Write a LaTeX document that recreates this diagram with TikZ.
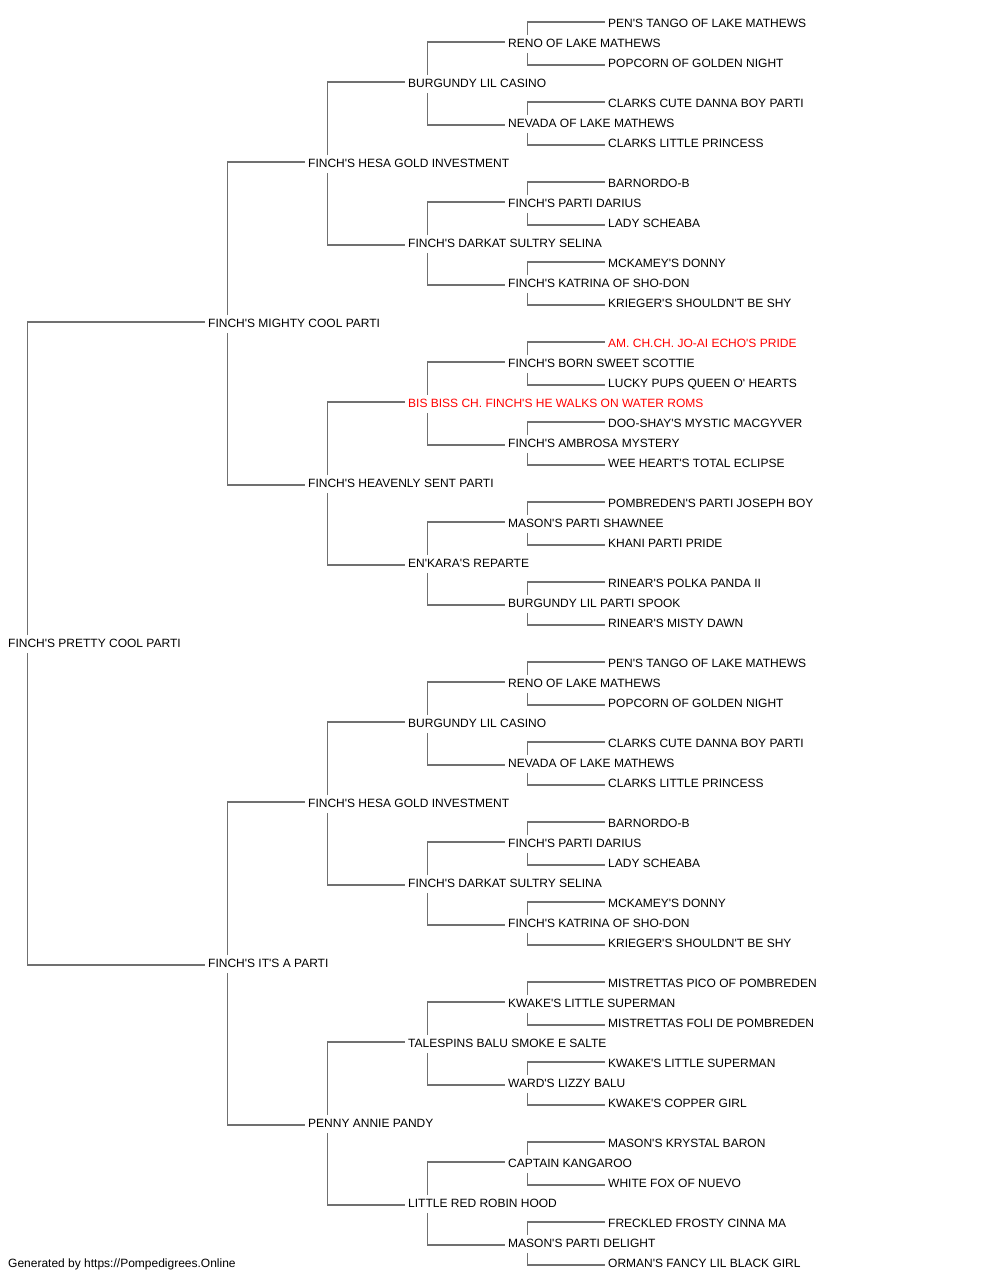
\documentclass[tikz,border=0pt]{standalone}
\usepackage{fontspec}
\setmainfont{Liberation Sans}[Ligatures=TeXOff]
\definecolor{lineg}{RGB}{112,112,112}
\definecolor{redname}{RGB}{255,0,0}
\pgfdeclarelayer{background}
\pgfsetlayers{background,main}
\begin{document}
\begin{tikzpicture}[x=1pt,y=-1pt,
  tag/.style={anchor=west, fill=white, inner xsep=3pt, inner ysep=4.7pt,
    text height=8.3pt, text depth=0pt, font=\fontsize{12}{14}\selectfont},
  redtag/.style={tag, text=redname},
  conn/.style={draw=lineg, line width=1.6pt}]
\useasboundingbox (0,0) rectangle (1000,1280);
\begin{scope}[yshift=-0.8pt]
% level 0
\node[tag] (n) at (5,643) {FINCH'S PRETTY COOL PARTI};
% level 1
\node[tag] (n1) at (205,323) {FINCH'S MIGHTY COOL PARTI};
\node[tag] (n2) at (205,963) {FINCH'S IT'S A PARTI};
% level 2
\node[tag] (n11) at (305,163) {FINCH'S HESA GOLD INVESTMENT};
\node[tag] (n12) at (305,483) {FINCH'S HEAVENLY SENT PARTI};
\node[tag] (n21) at (305,803) {FINCH'S HESA GOLD INVESTMENT};
\node[tag] (n22) at (305,1123) {PENNY ANNIE PANDY};
% level 3
\node[tag] (n111) at (405,83) {BURGUNDY LIL CASINO};
\node[tag] (n112) at (405,243) {FINCH'S DARKAT SULTRY SELINA};
\node[redtag] (n121) at (405,403) {BIS BISS CH. FINCH'S HE WALKS ON WATER ROMS};
\node[tag] (n122) at (405,563) {EN'KARA'S REPARTE};
\node[tag] (n211) at (405,723) {BURGUNDY LIL CASINO};
\node[tag] (n212) at (405,883) {FINCH'S DARKAT SULTRY SELINA};
\node[tag] (n221) at (405,1043) {TALESPINS BALU SMOKE E SALTE};
\node[tag] (n222) at (405,1203) {LITTLE RED ROBIN HOOD};
% level 4
\node[tag] (n1111) at (505,43) {RENO OF LAKE MATHEWS};
\node[tag] (n1112) at (505,123) {NEVADA OF LAKE MATHEWS};
\node[tag] (n1121) at (505,203) {FINCH'S PARTI DARIUS};
\node[tag] (n1122) at (505,283) {FINCH'S KATRINA OF SHO-DON};
\node[tag] (n1211) at (505,363) {FINCH'S BORN SWEET SCOTTIE};
\node[tag] (n1212) at (505,443) {FINCH'S AMBROSA MYSTERY};
\node[tag] (n1221) at (505,523) {MASON'S PARTI SHAWNEE};
\node[tag] (n1222) at (505,603) {BURGUNDY LIL PARTI SPOOK};
\node[tag] (n2111) at (505,683) {RENO OF LAKE MATHEWS};
\node[tag] (n2112) at (505,763) {NEVADA OF LAKE MATHEWS};
\node[tag] (n2121) at (505,843) {FINCH'S PARTI DARIUS};
\node[tag] (n2122) at (505,923) {FINCH'S KATRINA OF SHO-DON};
\node[tag] (n2211) at (505,1003) {KWAKE'S LITTLE SUPERMAN};
\node[tag] (n2212) at (505,1083) {WARD'S LIZZY BALU};
\node[tag] (n2221) at (505,1163) {CAPTAIN KANGAROO};
\node[tag] (n2222) at (505,1243) {MASON'S PARTI DELIGHT};
% level 5
\node[tag] (n11111) at (605,23) {PEN'S TANGO OF LAKE MATHEWS};
\node[tag] (n11112) at (605,63) {POPCORN OF GOLDEN NIGHT};
\node[tag] (n11121) at (605,103) {CLARKS CUTE DANNA BOY PARTI};
\node[tag] (n11122) at (605,143) {CLARKS LITTLE PRINCESS};
\node[tag] (n11211) at (605,183) {BARNORDO-B};
\node[tag] (n11212) at (605,223) {LADY SCHEABA};
\node[tag] (n11221) at (605,263) {MCKAMEY'S DONNY};
\node[tag] (n11222) at (605,303) {KRIEGER'S SHOULDN'T BE SHY};
\node[redtag] (n12111) at (605,343) {AM. CH.CH. JO-AI ECHO'S PRIDE};
\node[tag] (n12112) at (605,383) {LUCKY PUPS QUEEN O' HEARTS};
\node[tag] (n12121) at (605,423) {DOO-SHAY'S MYSTIC MACGYVER};
\node[tag] (n12122) at (605,463) {WEE HEART'S TOTAL ECLIPSE};
\node[tag] (n12211) at (605,503) {POMBREDEN'S PARTI JOSEPH BOY};
\node[tag] (n12212) at (605,543) {KHANI PARTI PRIDE};
\node[tag] (n12221) at (605,583) {RINEAR'S POLKA PANDA II};
\node[tag] (n12222) at (605,623) {RINEAR'S MISTY DAWN};
\node[tag] (n21111) at (605,663) {PEN'S TANGO OF LAKE MATHEWS};
\node[tag] (n21112) at (605,703) {POPCORN OF GOLDEN NIGHT};
\node[tag] (n21121) at (605,743) {CLARKS CUTE DANNA BOY PARTI};
\node[tag] (n21122) at (605,783) {CLARKS LITTLE PRINCESS};
\node[tag] (n21211) at (605,823) {BARNORDO-B};
\node[tag] (n21212) at (605,863) {LADY SCHEABA};
\node[tag] (n21221) at (605,903) {MCKAMEY'S DONNY};
\node[tag] (n21222) at (605,943) {KRIEGER'S SHOULDN'T BE SHY};
\node[tag] (n22111) at (605,983) {MISTRETTAS PICO OF POMBREDEN};
\node[tag] (n22112) at (605,1023) {MISTRETTAS FOLI DE POMBREDEN};
\node[tag] (n22121) at (605,1063) {KWAKE'S LITTLE SUPERMAN};
\node[tag] (n22122) at (605,1103) {KWAKE'S COPPER GIRL};
\node[tag] (n22211) at (605,1143) {MASON'S KRYSTAL BARON};
\node[tag] (n22212) at (605,1183) {WHITE FOX OF NUEVO};
\node[tag] (n22221) at (605,1223) {FRECKLED FROSTY CINNA MA};
\node[tag] (n22222) at (605,1263) {ORMAN'S FANCY LIL BLACK GIRL};
% footer
\node[tag] (foot) at (5,1263) {Generated by https://Pompedigrees.Online};
% connectors
\begin{pgfonlayer}{background}
\foreach \p in {n,n1,n2,n11,n12,n21,n22,n111,n112,n121,n122,n211,n212,n221,n222,
  n1111,n1112,n1121,n1122,n1211,n1212,n1221,n1222,n2111,n2112,n2121,n2122,n2211,n2212,n2221,n2222}
  \draw[conn] ([yshift=2pt]\p1.west) -| ([xshift=22.5pt]\p.west) |- ([yshift=-1pt]\p2.west);
\end{pgfonlayer}
\end{scope}
\end{tikzpicture}
\end{document}
